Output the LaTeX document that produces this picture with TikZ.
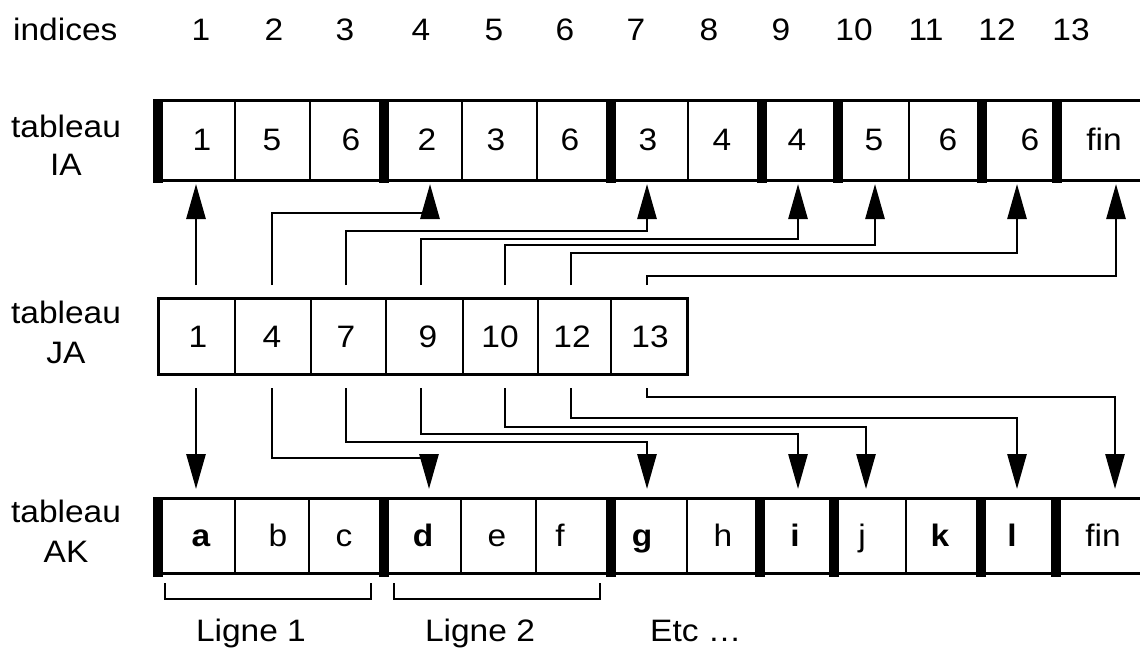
\documentclass[tikz,border=0pt]{standalone}
\usepackage{fontspec}
\setmainfont{Liberation Sans}[FakeStretch=1.08]
\usetikzlibrary{arrows.meta}
\begin{document}
\begin{tikzpicture}[x=1pt,y=-1pt,
  txt/.style={font=\fontsize{31}{36}\selectfont, inner sep=0pt, anchor=base},
  btxt/.style={font=\fontsize{31}{36}\selectfont\bfseries, inner sep=0pt, anchor=base},
  outline/.style={line width=3pt},
  divider/.style={line width=2.2pt},
  bar/.style={line width=9.5pt},
  conn/.style={line width=2.8pt, -{Triangle[length=35pt,width=19pt]}},
  wire/.style={line width=2.6pt},
]
\useasboundingbox (0,0) rectangle (1140,648);
\fill[white] (0,0) rectangle (1140,648);

% ---- row labels
\node[txt, anchor=base west] (lidx) at (13,40) {indices};
\node[txt] (lia1) at (66,137) {tableau};
\node[txt] (lia2) at (66,175) {IA};
\node[txt] (lja1) at (66,323) {tableau};
\node[txt] (lja2) at (66,363) {JA};
\node[txt] (lak1) at (66,522) {tableau};
\node[txt] (lak2) at (66,562) {AK};

% ---- indices
\foreach \n/\x in {1/201,2/274,3/345,4/421,5/494,6/565,7/636,8/709,9/781,10/854,11/926,12/997,13/1071}
  \node[txt] (idx\n) at (\x,40) {\n};

% ---- tableau IA
\draw[outline] (158,100) -- (1140,100) (158,180) -- (1140,180);
\foreach \x in {235,310,462,537,688,909} \draw[divider] (\x,100) -- (\x,180);
\foreach \x in {158,384,611,762,838,982,1057} \draw[bar] (\x,99) -- (\x,183);
\foreach \n/\x/\t in {1/202/1,2/272/5,3/351/6,4/427/2,5/496/3,6/570/6,7/648/3,8/722/4,9/797/4,10/874/5,11/948/6,12/1030/6,13/1104/fin}
  \node[txt] (ia\n) at (\x,150) {\t};

% ---- tableau JA
\draw[outline] (158,298) rectangle (687,374);
\foreach \x in {235,311,386,463,538,611} \draw[divider] (\x,298) -- (\x,374);
\foreach \n/\x/\t in {1/198/1,2/272/4,3/346/7,4/428/9,5/500/10,6/572/12,7/650/13}
  \node[txt] (ja\n) at (\x,347) {\t};

% ---- tableau AK
\draw[outline] (158,498) -- (1140,498) (158,573) -- (1140,573);
\foreach \x in {235,309,461,536,687,906} \draw[divider] (\x,498) -- (\x,573);
\foreach \x in {158,384,611,760,834,981,1056} \draw[bar] (\x,497) -- (\x,577);
\foreach \n/\x/\t in {2/278/b,3/344/c,5/497/e,6/560/f,8/723/h,10/862/j,13/1103/fin}
  \node[txt] (ak\n) at (\x,546) {\t};
\foreach \n/\x/\t in {1/201/a,4/423/d,7/642/g,9/795/i,11/940/k,12/1012/l}
  \node[btxt] (ak\n) at (\x,546) {\t};

% ---- connectors JA -> IA
\coordinate (us1) at (196,285); \coordinate (ue1) at (196,184);
\draw[conn] (us1) -- (ue1);
\foreach \i/\sx/\ly/\ex in {2/272/213/430,3/346/231/647,4/421/239/798,5/505/245/875,6/571/253/1017,7/647/276/1116}{
  \coordinate (us\i) at (\sx,285);
  \coordinate (ue\i) at (\ex,184);
  \draw[conn] (us\i) |- (\ex,\ly) -- (ue\i);
}

% ---- connectors JA -> AK
\coordinate (ds1) at (196,388); \coordinate (de1) at (196,489);
\draw[conn] (ds1) -- (de1);
\foreach \i/\sx/\ly/\ex in {2/272/458/429,3/346/442/647,4/421/434/798,5/505/427/866,6/571/418/1017,7/647/397/1115}{
  \coordinate (ds\i) at (\sx,388);
  \coordinate (de\i) at (\ex,489);
  \draw[conn] (ds\i) |- (\ex,\ly) -- (de\i);
}

% ---- brackets
\coordinate (b1a) at (165,583); \coordinate (b1b) at (371,583);
\coordinate (b2a) at (394,583); \coordinate (b2b) at (600,583);
\draw[wire] (b1a) -- ++(0,16) -| (b1b);
\draw[wire] (b2a) -- ++(0,16) -| (b2b);
\node[txt] (lig1) at (251,641) {Ligne 1};
\node[txt] (lig2) at (480,641) {Ligne 2};
\node[txt, anchor=base west] (etc) at (650,641) {Etc …};
\end{tikzpicture}
\end{document}
